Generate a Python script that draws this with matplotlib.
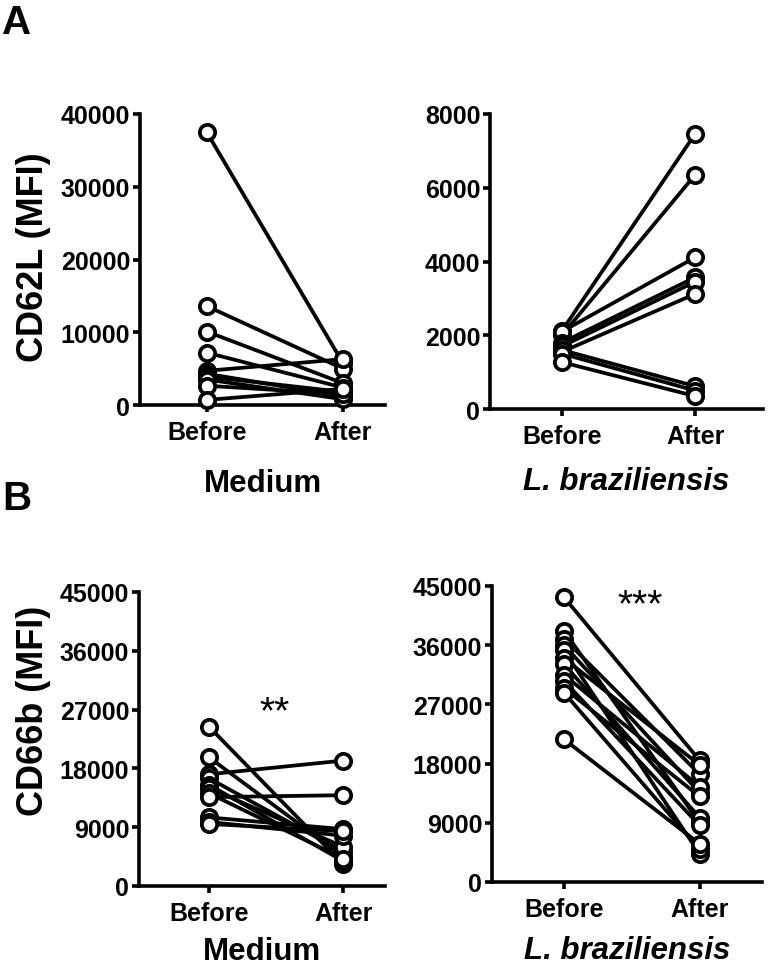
import matplotlib
matplotlib.use("Agg")
import matplotlib.pyplot as plt

plt.rcParams['font.family'] = ['Liberation Sans', 'DejaVu Sans']
plt.rcParams['font.weight'] = 'bold'

groups = ["Before", "After"]

# Panel A: CD62L (MFI)
cd62l_medium_before = [37500, 13600, 10100, 7200, 4700, 4300, 3900, 3500, 2650, 700]
cd62l_medium_after = [5800, 5000, 3000, 2400, 6300, 1200, 1800, 800, 1500, 2200]
cd62l_lb_before = [2120, 2000, 2100, 1800, 1700, 1550, 1600, 1500, 1270]
cd62l_lb_after = [7460, 6350, 4110, 3570, 3450, 3120, 620, 500, 350]

# Panel B: CD66b (MFI)
cd66b_medium_before = [24400, 19700, 17100, 16500, 15500, 15000, 14200, 13600, 10500, 9800, 9500]
cd66b_medium_after = [3300, 4500, 19200, 5200, 3800, 6000, 4200, 13900, 8700, 7700, 8400]
cd66b_lb_before = [43300, 38200, 37000, 36000, 35200, 34000, 33100, 31500, 30600, 29500, 28800, 21700]
cd66b_lb_after = [18500, 9000, 16400, 13600, 4300, 17800, 9800, 14500, 8600, 13000, 5000, 5800]

cd62l_ticks = [[0, 10000, 20000, 30000, 40000], [0, 2000, 4000, 6000, 8000]]
cd66b_ticks = [0, 9000, 18000, 27000, 36000, 45000]

fig = plt.figure(figsize=(7.71, 9.70), dpi=100)

def px_axes(left, right, top, bottom):
    W, H = 771.0, 970.0
    return fig.add_axes([left / W, 1 - bottom / H, (right - left) / W, (bottom - top) / H])

panels = [
    dict(rect=(140, 385, 115, 406), before=cd62l_medium_before, after=cd62l_medium_after,
         ticks=cd62l_ticks[0], xlim=(-0.49, 1.31), xlabel="Medium", italic=False,
         star=None, star_xy=None, labelpad=17),
    dict(rect=(490, 763, 115, 410), before=cd62l_lb_before, after=cd62l_lb_after,
         ticks=cd62l_ticks[1], xlim=(-0.54, 1.51), xlabel="L. braziliensis", italic=True,
         star=None, star_xy=None, labelpad=13),
    dict(rect=(139, 385, 593, 887), before=cd66b_medium_before, after=cd66b_medium_after,
         ticks=cd66b_ticks, xlim=(-0.52, 1.31), xlabel="Medium", italic=False,
         star="**", star_xy=(0.49, 26600), labelpad=8),
    dict(rect=(492, 762, 587, 883), before=cd66b_lb_before, after=cd66b_lb_after,
         ticks=cd66b_ticks, xlim=(-0.53, 1.46), xlabel="L. braziliensis", italic=True,
         star="***", star_xy=(0.56, 42100), labelpad=10),
]

for p in panels:
    ax = px_axes(*p["rect"])
    for b, a in zip(p["before"], p["after"]):
        ax.plot([0, 1], [b, a], color='black', lw=2.7, marker='o', ms=11,
                mfc='white', mec='black', mew=2.7, clip_on=False, zorder=3)
    ax.set_xlim(*p["xlim"])
    ax.set_ylim(p["ticks"][0], p["ticks"][-1])
    ax.set_yticks(p["ticks"])
    ax.set_yticklabels([str(t) for t in p["ticks"]])
    ax.set_xticks([0, 1])
    ax.set_xticklabels(groups)
    for s in ['top', 'right']:
        ax.spines[s].set_visible(False)
    for s in ['left', 'bottom']:
        ax.spines[s].set_linewidth(2.6)
    ax.tick_params(axis='both', width=2.6, length=5, labelsize=18)
    ax.tick_params(axis='y', pad=2)
    ax.tick_params(axis='x', pad=6)
    for lab in ax.get_xticklabels() + ax.get_yticklabels():
        lab.set_fontweight('bold')
    ax.set_xlabel(p["xlabel"], fontsize=22.5, fontweight='bold',
                  fontstyle='italic' if p["italic"] else 'normal', labelpad=p["labelpad"])
    if p["star"]:
        ax.text(p["star_xy"][0], p["star_xy"][1], p["star"], ha='center', va='center',
                fontsize=28, fontweight='normal')
    ax.patch.set_visible(False)

fig.text(34 / 771, 1 - 257 / 970, "CD62L (MFI)", rotation=90, ha='center', va='center',
         fontsize=26, fontweight='bold')
fig.text(34 / 771, 1 - 711 / 970, "CD66b (MFI)", rotation=90, ha='center', va='center',
         fontsize=26, fontweight='bold')
fig.text(2 / 771, 1 - 34 / 970, "A", ha='left', va='baseline', fontsize=29, fontweight='bold')
fig.text(2 / 771, 1 - 510 / 970, "B", ha='left', va='baseline', fontsize=29, fontweight='bold')

fig.savefig("out.png", dpi=100)
